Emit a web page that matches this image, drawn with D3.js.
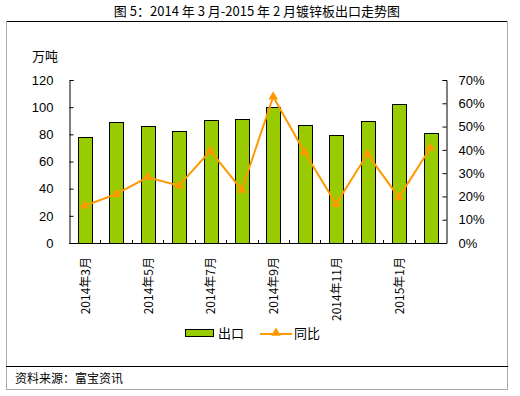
<!DOCTYPE html>
<html>
<head>
<meta charset="utf-8">
<script src="https://cdn.jsdelivr.net/npm/d3@7"></script>
<style>
  body { margin: 0; background: #fff; }
  svg text { font-family: "Liberation Sans", Arial, sans-serif; }
  .cjk { font-family: "Noto Sans CJK SC", sans-serif; }
</style>
</head>
<body>
<div id="chart"></div>
<script>
// months, export volume (万吨) and YoY growth (%)
var months = ["2014年3月", "2014年4月", "2014年5月", "2014年6月", "2014年7月", "2014年8月",
  "2014年9月", "2014年10月", "2014年11月", "2014年12月", "2015年1月", "2015年2月"];
var exports = [78, 89, 86, 82.5, 90.5, 91, 100, 86.7, 79.5, 89.6, 102.4, 81];
var yoy = [16, 21, 28.2, 24.6, 39.6, 22.8, 62.8, 39, 16.7, 38.2, 19.6, 40.8];
var leftTicks = [0, 20, 40, 60, 80, 100, 120];
var rightTicks = [0, 10, 20, 30, 40, 50, 60, 70];

var W = 520, H = 396;
var plot = {left: 69, right: 446, top: 80, bottom: 243};

var svg = d3.select("#chart").append("svg")
  .attr("width", W).attr("height", H);

// title
svg.append("text").attr("class", "cjk")
  .attr("x", 257).attr("y", 16)
  .attr("text-anchor", "middle")
  .style("font-size", "13px")
  .text("图 5：2014 年 3 月-2015 年 2 月镀锌板出口走势图");

// frame
svg.append("line").attr("x1", 6).attr("x2", 508).attr("y1", 21.5).attr("y2", 21.5)
  .attr("stroke", "#000").attr("stroke-width", 1.2);
svg.append("line").attr("x1", 6.5).attr("x2", 6.5).attr("y1", 21).attr("y2", 389)
  .attr("stroke", "#aaa");
svg.append("line").attr("x1", 507.5).attr("x2", 507.5).attr("y1", 21).attr("y2", 389)
  .attr("stroke", "#aaa");
svg.append("line").attr("x1", 6).attr("x2", 508).attr("y1", 389.5).attr("y2", 389.5)
  .attr("stroke", "#aaa");
svg.append("line").attr("x1", 6).attr("x2", 508).attr("y1", 366.5).attr("y2", 366.5)
  .attr("stroke", "#000");

svg.append("text").attr("class", "cjk")
  .attr("x", 15).attr("y", 383)
  .style("font-size", "12px")
  .text("资料来源：富宝资讯");

var x = d3.scaleBand().domain(months).range([plot.left, plot.right]).paddingInner(0.57).paddingOuter(0.285);
var xb = d3.scaleBand().domain(months).range([plot.left, plot.right]);
var y = d3.scaleLinear().domain([0, 120]).range([plot.bottom, plot.top]);
var y2 = d3.scaleLinear().domain([0, 70]).range([plot.bottom, plot.top]);

// bars
svg.append("g").selectAll("rect").data(exports).join("rect")
  .attr("x", function (d, i) { return Math.round(x(months[i])) + 0.5; })
  .attr("y", function (d) { return Math.round(y(d)) + 0.5; })
  .attr("width", Math.round(x.bandwidth()))
  .attr("height", function (d) { return Math.round(plot.bottom - y(d)); })
  .attr("fill", "#99cc00")
  .attr("stroke", "#000")
  .attr("stroke-width", 1);

// left axis
var gl = svg.append("g").attr("transform", "translate(" + (plot.left + 0.5) + ",0)")
  .call(d3.axisLeft(y).tickValues(leftTicks).tickSize(-4).tickPadding(16));
// right axis
var gr = svg.append("g").attr("transform", "translate(" + (plot.right + 0.5) + ",0)")
  .call(d3.axisRight(y2).tickValues(rightTicks).tickSize(-4).tickPadding(12)
    .tickFormat(function (d) { return d + "%"; }));
[gl, gr].forEach(function (g) {
  g.select(".domain").attr("stroke", "#000");
  g.selectAll(".tick line").attr("stroke", "#000");
  g.selectAll(".tick text").style("font-size", "13px").attr("fill", "#000")
    .style("font-family", "\"Liberation Sans\", Arial, sans-serif");
});

// x axis
var gx = svg.append("g");
gx.append("line").attr("x1", plot.left).attr("x2", plot.right + 1)
  .attr("y1", plot.bottom + 0.5).attr("y2", plot.bottom + 0.5).attr("stroke", "#000");
gx.selectAll("line.tk").data(months.slice(1)).join("line").attr("class", "tk")
  .attr("x1", function (d) { return Math.round(xb(d)) + 0.5; })
  .attr("x2", function (d) { return Math.round(xb(d)) + 0.5; })
  .attr("y1", plot.bottom - 3).attr("y2", plot.bottom)
  .attr("stroke", "#000");
gx.selectAll("text").data(months.filter(function (d, i) { return i % 2 === 0; })).join("text")
  .attr("class", "cjk")
  .attr("transform", function (d) {
    return "translate(" + (xb(d) + xb.bandwidth() / 2 + 5) + "," + (plot.bottom + 14) + ") rotate(-90)";
  })
  .attr("text-anchor", "end")
  .style("font-size", "12px")
  .text(function (d) { return d; });

// y-axis unit
svg.append("text").attr("class", "cjk")
  .attr("x", 32).attr("y", 61)
  .style("font-size", "13px")
  .text("万吨");

// line
var cx = function (d, i) { return xb(months[i]) + xb.bandwidth() / 2; };
svg.append("path").datum(yoy)
  .attr("fill", "none").attr("stroke", "#ff9900").attr("stroke-width", 2)
  .attr("d", d3.line().x(cx).y(function (d) { return y2(d); }));
var tri = d3.symbol().type(d3.symbolTriangle).size(40);
svg.append("g").selectAll("path").data(yoy).join("path")
  .attr("transform", function (d, i) { return "translate(" + cx(d, i) + "," + y2(d) + ")"; })
  .attr("d", tri)
  .attr("fill", "#ff9900");

// legend
var lg = svg.append("g");
lg.append("rect").attr("x", 185.5).attr("y", 329.5).attr("width", 28).attr("height", 7)
  .attr("fill", "#99cc00").attr("stroke", "#000");
lg.append("text").attr("class", "cjk").attr("x", 218).attr("y", 338)
  .style("font-size", "13px").text("出口");
lg.append("line").attr("x1", 260).attr("x2", 292).attr("y1", 334).attr("y2", 334)
  .attr("stroke", "#ff9900").attr("stroke-width", 2);
lg.append("path").attr("transform", "translate(276,333)").attr("d", tri).attr("fill", "#ff9900");
lg.append("text").attr("class", "cjk").attr("x", 294).attr("y", 338)
  .style("font-size", "13px").text("同比");
</script>
</body>
</html>
